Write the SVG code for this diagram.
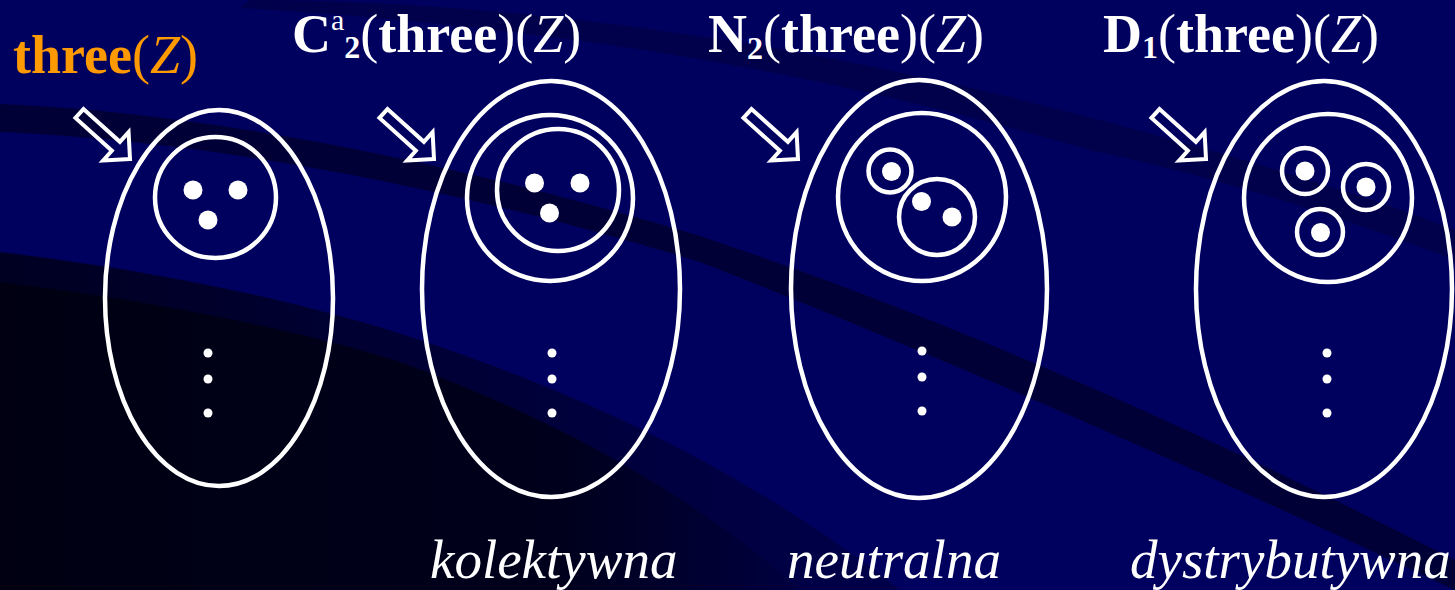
<svg xmlns="http://www.w3.org/2000/svg" width="1455" height="590" viewBox="0 0 1455 590">
  <defs>
    <style>
      .ring { fill: none; stroke: #ffffff; stroke-width: 4.5; }
      .dot { fill: #ffffff; }
      .arrow { fill: none; stroke: #ffffff; stroke-width: 4; stroke-linejoin: miter; }
      .title { font-family: "Liberation Serif", "Times New Roman", serif; font-size: 54px; fill: #ffffff; }
      .b { font-weight: bold; }
      .i { font-style: italic; }
      .label { font-family: "Liberation Serif", "Times New Roman", serif; font-size: 55px; font-style: italic; fill: #ffffff; }
    </style>
    <!-- hollow block arrow, tip at origin, pointing along +x -->
    <path id="hollowArrow" class="arrow" d="M0 0 L-19 19 L-19 6 L-68 6 L-68 -6 L-19 -6 L-19 -19 Z"/>
    <linearGradient id="shadeLow" x1="0" y1="0" x2="1" y2="0">
      <stop offset="0" stop-color="#000012"/>
      <stop offset="0.7" stop-color="#00001c"/>
      <stop offset="1" stop-color="#000040"/>
    </linearGradient>
    <linearGradient id="shadeMid" x1="0" y1="0" x2="1" y2="0">
      <stop offset="0" stop-color="#000022"/>
      <stop offset="1" stop-color="#00004a"/>
    </linearGradient>
  </defs>

  <!-- background -->
  <g id="background">
    <rect width="1455" height="590" fill="#00005e"/>
    <!-- upper sweeping band -->
    <path d="M250 0 C 500 0, 800 40, 1100 120 C 1250 160, 1380 200, 1455 230 L1455 260 C 1350 220, 1230 180, 1090 150 C 850 80, 600 30, 240 8 Z" fill="#000046" opacity="0.8"/>
    <!-- middle sweeping band -->
    <path d="M0 104 C 200 112, 450 160, 700 236 C 950 320, 1200 430, 1455 560 L1455 590 C 1200 470, 950 360, 700 262 C 450 185, 200 140, 0 132 Z" fill="#000030" opacity="0.85"/>
    <!-- lower-left shadow -->
    <path d="M0 252 C 150 270, 300 300, 420 340 C 600 400, 760 480, 900 590 L0 590 Z" fill="url(#shadeMid)"/>
    <path d="M0 282 C 150 300, 300 330, 400 362 C 560 420, 700 500, 800 590 L0 590 Z" fill="url(#shadeLow)"/>
  </g>

  <!-- titles -->
  <g id="titles">
    <text class="title" x="13" y="73" style="fill:#ff9900"><tspan class="b">three</tspan>(<tspan class="i">Z</tspan>)</text>
    <text class="title" x="292" y="52"><tspan class="b">C</tspan><tspan font-size="30" dy="-22">a</tspan><tspan class="b" font-size="32" dy="28">2</tspan><tspan dy="-6">(</tspan><tspan class="b">three</tspan>)(<tspan class="i">Z</tspan>)</text>
    <text class="title" x="708" y="52"><tspan class="b">N</tspan><tspan class="b" font-size="32" dy="7">2</tspan><tspan dy="-7">(</tspan><tspan class="b">three</tspan>)(<tspan class="i">Z</tspan>)</text>
    <text class="title" x="1103" y="52"><tspan class="b">D</tspan><tspan class="b" font-size="32" dy="6">1</tspan><tspan dy="-6">(</tspan><tspan class="b">three</tspan>)(<tspan class="i">Z</tspan>)</text>
  </g>

  <!-- pointer arrows -->
  <g id="connectors">
    <use href="#hollowArrow" transform="translate(130 159) rotate(42)"/>
    <use href="#hollowArrow" transform="translate(434 159) rotate(42)"/>
    <use href="#hollowArrow" transform="translate(798 159) rotate(42)"/>
    <use href="#hollowArrow" transform="translate(1206 159) rotate(42)"/>
  </g>

  <!-- plain set -->
  <g id="node-three">
    <ellipse class="ring" cx="219" cy="298" rx="114" ry="188"/>
    <circle class="ring" cx="215.5" cy="197.5" r="60.5"/>
    <circle class="dot" cx="193" cy="190" r="9.5"/>
    <circle class="dot" cx="238" cy="190" r="9.5"/>
    <circle class="dot" cx="208" cy="220" r="9.5"/>
    <circle class="dot" cx="208" cy="353" r="4.5"/>
    <circle class="dot" cx="208" cy="379" r="4.5"/>
    <circle class="dot" cx="208" cy="413" r="4.5"/>
  </g>

  <!-- collective -->
  <g id="node-collective">
    <ellipse class="ring" cx="551" cy="289" rx="129" ry="208"/>
    <circle class="ring" cx="550" cy="198" r="83"/>
    <circle class="ring" cx="558" cy="190" r="61"/>
    <circle class="dot" cx="534.5" cy="183" r="9.5"/>
    <circle class="dot" cx="580" cy="183" r="9.5"/>
    <circle class="dot" cx="549.5" cy="213" r="9.5"/>
    <circle class="dot" cx="552" cy="353" r="4.5"/>
    <circle class="dot" cx="552" cy="379" r="4.5"/>
    <circle class="dot" cx="552" cy="413" r="4.5"/>
  </g>

  <!-- neutral -->
  <g id="node-neutral">
    <ellipse class="ring" cx="919" cy="289" rx="128" ry="209"/>
    <circle class="ring" cx="922" cy="197" r="84"/>
    <circle class="ring" cx="890" cy="171" r="21.5"/>
    <circle class="ring" cx="937" cy="217" r="38"/>
    <circle class="dot" cx="891.5" cy="171.5" r="9.5"/>
    <circle class="dot" cx="921.5" cy="201.5" r="9.5"/>
    <circle class="dot" cx="952" cy="217" r="9.5"/>
    <circle class="dot" cx="922" cy="351" r="4.5"/>
    <circle class="dot" cx="922" cy="377" r="4.5"/>
    <circle class="dot" cx="922" cy="411" r="4.5"/>
  </g>

  <!-- distributive -->
  <g id="node-distributive">
    <ellipse class="ring" cx="1324" cy="289" rx="128" ry="208"/>
    <circle class="ring" cx="1328" cy="198" r="84"/>
    <circle class="ring" cx="1305" cy="171" r="23"/>
    <circle class="ring" cx="1366" cy="187" r="23"/>
    <circle class="ring" cx="1320" cy="232" r="23"/>
    <circle class="dot" cx="1305" cy="171" r="9.5"/>
    <circle class="dot" cx="1366" cy="187" r="9.5"/>
    <circle class="dot" cx="1320.5" cy="232.5" r="9.5"/>
    <circle class="dot" cx="1327" cy="353" r="4.5"/>
    <circle class="dot" cx="1327" cy="379" r="4.5"/>
    <circle class="dot" cx="1327" cy="413" r="4.5"/>
  </g>

  <!-- readings -->
  <g id="labels">
    <text class="label" x="430" y="578">kolektywna</text>
    <text class="label" x="787" y="578">neutralna</text>
    <text class="label" x="1130" y="578">dystrybutywna</text>
  </g>
</svg>
